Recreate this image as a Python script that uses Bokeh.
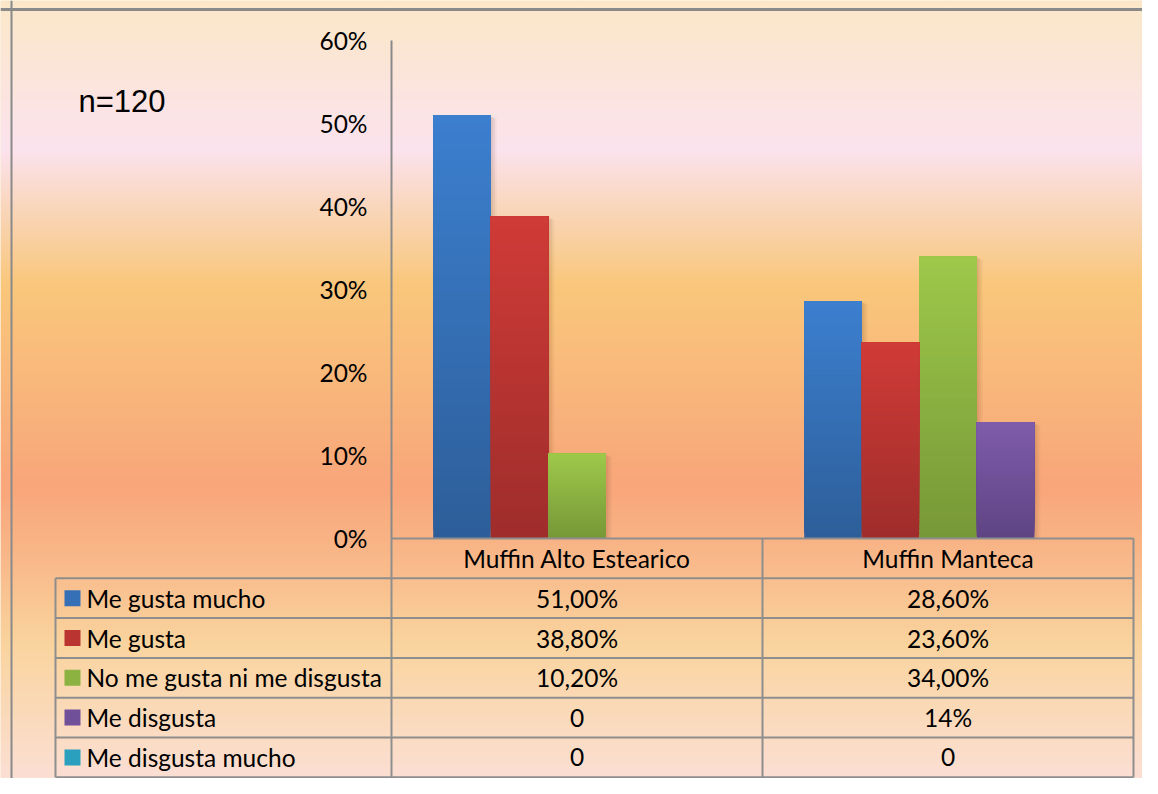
import numpy as np
from bokeh.plotting import figure
from bokeh.models import (LinearAxis, FixedTicker, NumeralTickFormatter, Label, Span, Range1d)
from bokeh.embed import file_html
from bokeh.resources import INLINE
from bokeh.core.properties import value

# ---------------- data ----------------
categories = ["Muffin Alto Estearico", "Muffin Manteca"]
series = ["Me gusta mucho", "Me gusta", "No me gusta ni me disgusta", "Me disgusta", "Me disgusta mucho"]
vals_alto = [0.510, 0.388, 0.102, 0.0, 0.0]
vals_manteca = [0.286, 0.236, 0.340, 0.140, 0.0]
txt_alto = ["51,00%", "38,80%", "10,20%", "0", "0"]
txt_manteca = ["28,60%", "23,60%", "34,00%", "14%", "0"]
y_ticks = [0.0, 0.1, 0.2, 0.3, 0.4, 0.5, 0.6]
note_text = "n=120"

# ---------------- styles ----------------
top_colors = ["#3C7FCF", "#D03B37", "#9DC94A", "#7F5CAB", "#2FB5D7"]
bottom_colors = ["#2D5E99", "#9E2D2B", "#779737", "#5E4483", "#23879F"]
grid_col = "#8E8E8E"
FONT = "Lato"
FS = "24.5px"

W, H = 1142, 778
PX_X, PX_Y = 371.0, 830.0          # pixels per category / per 100 %
X0 = -391 / PX_X
X1 = X0 + W / PX_X
Y1 = 538 / PX_Y
Y0 = Y1 - H / PX_Y

p = figure(width=W, height=H, x_range=Range1d(X0, X1), y_range=Range1d(Y0, Y1),
           x_axis_location=None, y_axis_location=None, min_border=0,
           toolbar_location=None, output_backend="svg", outline_line_color=None)
p.background_fill_color = "#FBE8C9"
p.border_fill_color = "#FBE8C9"

# ---------------- background gradient ----------------
stops_y = [0, 150, 200, 285, 380, 486, 560, 643, 800]
stops_c = ["#FBE8C8", "#FCE3EE", "#FAD8C2", "#F9C77B", "#F9B87C", "#F8A67A", "#F9B98A", "#FAD49E", "#FCE1DD"]

def hex2rgb(h):
    h = h.lstrip("#")
    return [int(h[i:i + 2], 16) for i in (0, 2, 4)]

rgb = np.array([hex2rgb(c) for c in stops_c], dtype=float)
rows = np.arange(H)
img_y = (H - 1 - rows) + 0.5
bg = np.zeros((H, 1), dtype=np.uint32)
view = bg.view(dtype=np.uint8).reshape((H, 1, 4))
for k in range(3):
    view[:, 0, k] = np.interp(img_y, stops_y, rgb[:, k]).astype(np.uint8)
view[:, 0, 3] = 255
p.image_rgba(image=[bg], x=X0, y=Y0, dw=X1 - X0, dh=Y1 - Y0)

# outer chart border (top / left)
p.add_layout(Span(location=Y1 - 9 / PX_Y, dimension="width", line_color="#8A8A8A", line_width=3))
p.add_layout(Span(location=X0 + 11 / PX_X, dimension="height", line_color="#8A8A8A", line_width=2))

# ---------------- bars ----------------
n_s = len(series)
bar_w = 0.155
gap = (1 - n_s * bar_w) / 2
K = 48

def mix(c_bot, c_top, t):
    a = np.array(hex2rgb(c_bot), float)
    b = np.array(hex2rgb(c_top), float)
    c = a + (b - a) * t
    return "#%02X%02X%02X" % tuple(int(round(v)) for v in c)

all_vals = [vals_alto, vals_manteca]

# soft shadows
for off, alpha in [(6, 0.05), (4, 0.07), (2, 0.08)]:
    sh_x, sh_top = [], []
    for ci, vals in enumerate(all_vals):
        for si, v in enumerate(vals):
            if v > 0:
                sh_x.append(ci + gap + (si + 0.5) * bar_w + off / PX_X)
                sh_top.append(v - off / 2 / PX_Y)
    p.vbar(x=sh_x, top=sh_top, bottom=0, width=bar_w, fill_color="#6A3A20",
           fill_alpha=alpha, line_color=None)

# gradient bars: each slice spans from its lower edge up to the bar top (overlapping, no seams)
bx, bt, bb, bc = [], [], [], []
for k in range(K):
    for ci, vals in enumerate(all_vals):
        for si, v in enumerate(vals):
            if v <= 0:
                continue
            bx.append(ci + gap + (si + 0.5) * bar_w)
            bb.append(v * k / K)
            bt.append(v)
            bc.append(mix(bottom_colors[si], top_colors[si], (k + 0.5) / K))
p.vbar(x=bx, top=bt, bottom=bb, width=bar_w, fill_color=bc, line_color=None)

# ---------------- y axis ----------------
yaxis = LinearAxis(fixed_location=0, bounds=(0, 0.6), ticker=FixedTicker(ticks=y_ticks),
                   formatter=NumeralTickFormatter(format="0%"))
yaxis.axis_line_color = "#8A8A8A"
yaxis.axis_line_width = 2
yaxis.major_tick_in = 0
yaxis.major_tick_out = 0
yaxis.minor_tick_line_color = None
yaxis.major_label_standoff = 24
yaxis.major_label_text_font = FONT
yaxis.major_label_text_font_size = FS
yaxis.major_label_text_color = "#000000"
p.add_layout(yaxis, "left")

# ---------------- data table ----------------
ROW = 39.8 / PX_Y
LBL_LEFT = (55 - 391) / PX_X
n_rows = n_s + 1
xs0, ys0, xs1, ys1 = [], [], [], []
xs0.append(0); xs1.append(2); ys0.append(0); ys1.append(0)
for r in range(1, n_rows + 1):
    xs0.append(LBL_LEFT); xs1.append(2); ys0.append(-r * ROW); ys1.append(-r * ROW)
xs0.append(LBL_LEFT); xs1.append(LBL_LEFT); ys0.append(-ROW); ys1.append(-n_rows * ROW)
for c in range(len(categories) + 1):
    xs0.append(c); xs1.append(c); ys0.append(0); ys1.append(-n_rows * ROW)
p.segment(x0=xs0, y0=ys0, x1=xs1, y1=ys1, line_color=grid_col, line_width=2)

# header
p.text(x=[i + 0.5 for i in range(len(categories))], y=[-0.5 * ROW] * len(categories),
       text=categories, text_align="center", text_baseline="middle",
       text_font=value(FONT), text_font_size=FS, text_color="#000000")

# series labels with colour keys
row_y = [-(r + 1.5) * ROW for r in range(n_s)]
p.rect(x=[(72 - 391) / PX_X] * n_s, y=row_y, width=16, height=16,
       width_units="screen", height_units="screen",
       fill_color=[mix(b, t, 0.55) for b, t in zip(bottom_colors, top_colors)], line_color=None)
p.text(x=[(86 - 391) / PX_X] * n_s, y=row_y, text=series, text_align="left",
       text_baseline="middle", text_font=value(FONT), text_font_size=FS, text_color="#000000")

# values
for ci, txts in enumerate([txt_alto, txt_manteca]):
    p.text(x=[ci + 0.5] * n_s, y=row_y, text=txts, text_align="center", text_baseline="middle",
           text_font=value(FONT), text_font_size=FS, text_color="#000000")

# note
p.add_layout(Label(x=(78 - 391) / PX_X, y=(538 - 101) / PX_Y, text=note_text,
                   text_font="Liberation Sans", text_font_size="31px", text_color="#000000",
                   text_baseline="middle", text_align="left"))

open("out.html", "w").write(file_html(p, INLINE))
